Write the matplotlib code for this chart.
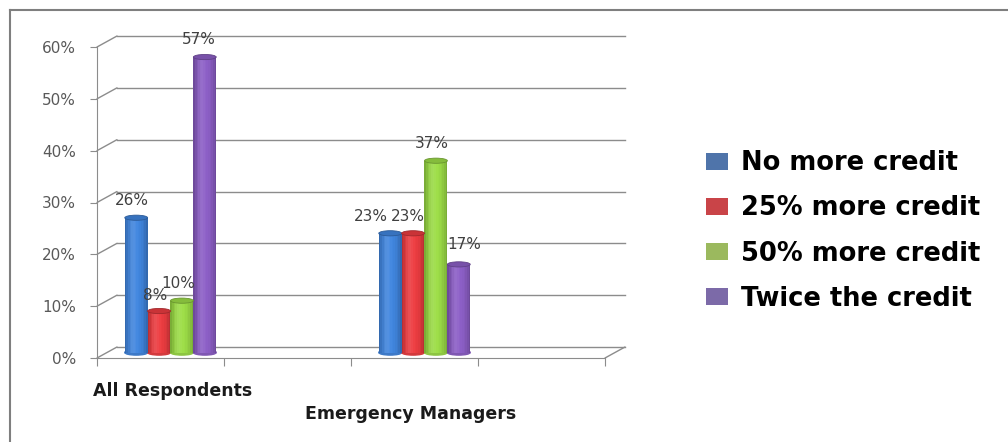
import numpy as np
import matplotlib.pyplot as plt
from matplotlib.transforms import ScaledTranslation
from matplotlib.patches import Ellipse, Patch, ConnectionPatch
from matplotlib.lines import Line2D
from matplotlib.colors import to_rgb

# Datos de la encuesta
categories = ['All Respondents', 'Emergency Managers']
cat_slots = [0.5, 2.5]          # posición de cada grupo en el eje x (4 huecos)
series = ['No more credit', '25% more credit', '50% more credit', 'Twice the credit']
values = {
    'No more credit':   [26, 23],
    '25% more credit':  [8, 23],
    '50% more credit':  [10, 37],
    'Twice the credit': [57, 17],
}
bar_colors = ['#3a78c8', '#d4363a', '#8cc63f', '#7e55b2']
legend_colors = ['#4f74aa', '#c94448', '#9bb95e', '#7c6aa8']
yticks = [0, 10, 20, 30, 40, 50, 60]

# desplazamiento de etiquetas (puntos) para que no se solapen
label_nudge = {
    ('No more credit', 0): (-3, 7), ('25% more credit', 0): (-3, 6),
    ('50% more credit', 0): (-3, 7), ('Twice the credit', 0): (-4, 7),
    ('No more credit', 1): (-14, 7), ('25% more credit', 1): (-4, 7),
    ('50% more credit', 1): (-3, 7), ('Twice the credit', 1): (4, 9),
}

plt.rcParams['font.family'] = ['DejaVu Sans']

fig = plt.figure(figsize=(10.08, 4.42), dpi=100)
ax = fig.add_axes([97/1008, 84/442, 508/1008, 311/442])
ax.set_xlim(0, 4)
ax.set_ylim(0, 60)
ax.patch.set_visible(False)

# profundidad falsa: plano medio (barras) y pared del fondo
tr_mid = ax.transData + ScaledTranslation(0.10, 0.055, fig.dpi_scale_trans)
tr_back = ax.transData + ScaledTranslation(0.20, 0.11, fig.dpi_scale_trans)

grid_c = '#8c8c8c'
for v in yticks:
    ax.plot([0, 4], [v, v], color=grid_c, lw=1.0, transform=tr_back, clip_on=False, zorder=1)
    ax.add_artist(ConnectionPatch((0, v), (0, v), ax.transData, tr_back,
                                  color=grid_c, lw=1.0, zorder=1))
ax.add_artist(ConnectionPatch((4, 0), (4, 0), ax.transData, tr_back,
                              color=grid_c, lw=1.0, zorder=1))

# ejes frontales
for s in ['top', 'right']:
    ax.spines[s].set_visible(False)
ax.spines['left'].set_color(grid_c)
ax.spines['bottom'].set_color(grid_c)
ax.set_yticks(yticks)
ax.set_yticklabels([f'{v}%' for v in yticks])
ax.set_xticks([0, 1, 2, 3, 4])
ax.set_xticklabels([])
ax.tick_params(axis='y', length=5, color=grid_c, labelcolor='#595959', labelsize=11, pad=10)
ax.tick_params(axis='x', length=6, color=grid_c, direction='out')


def shade(color, t):
    # t en [0, 1] a lo ancho del cilindro
    base = np.array(to_rgb(color))
    light = 0.62 + 0.50 * np.sin(np.pi * (t * 0.9 + 0.05)) ** 0.5
    c = base * light
    hl = np.exp(-((t - 0.35) / 0.15) ** 2) * 0.10
    c = c + (1 - c) * hl
    return np.clip(c, 0, 1)


bar_w = 0.18
n_strips = 14
ell_h = 1.0
for i, name in enumerate(series):
    for j, slot in enumerate(cat_slots):
        v = values[name][j]
        xc = slot + (i - 1.5) * bar_w
        ts = (np.arange(n_strips) + 0.5) / n_strips
        xs = xc - bar_w / 2 + ts * bar_w
        cols = [shade(bar_colors[i], t) for t in ts]
        ax.add_patch(Ellipse((xc, 0), bar_w, ell_h, transform=tr_mid,
                             color=shade(bar_colors[i], 0.15), clip_on=False, zorder=3))
        ax.bar(xs, v, width=bar_w / n_strips * 1.05, color=cols, linewidth=0,
               transform=tr_mid, clip_on=False, zorder=4)
        top = np.array(to_rgb(bar_colors[i])) * 0.95
        ax.add_patch(Ellipse((xc, v), bar_w, ell_h, transform=tr_mid,
                             facecolor=top, edgecolor=top * 0.8, lw=0.6,
                             clip_on=False, zorder=5))
        dx, dy = label_nudge[(name, j)]
        ax.annotate(f'{v}%', (xc, v), xycoords=tr_mid, xytext=(dx, dy),
                    textcoords='offset points', ha='center', va='bottom',
                    fontsize=11, color='#404040', zorder=6, annotation_clip=False)

# etiquetas de categoría escalonadas
ax.annotate(categories[0], (cat_slots[0], 0), xycoords='data', xytext=(9, -24),
            textcoords='offset points', ha='center', va='center',
            fontsize=12.5, fontweight='bold', color='#1a1a1a', annotation_clip=False)
ax.annotate(categories[1], (cat_slots[1], 0), xycoords='data', xytext=(-3, -40),
            textcoords='offset points', ha='center', va='center',
            fontsize=12.5, fontweight='bold', color='#1a1a1a', annotation_clip=False)

# leyenda
handles = [Patch(facecolor=c, edgecolor='none') for c in legend_colors]
fig.legend(handles, series, loc='upper left', bbox_to_anchor=(683/1008, 1 - 127/442),
           frameon=False, prop={'weight': 'bold', 'size': 18.5},
           handlelength=0.85, handleheight=0.65, handletextpad=0.5, labelspacing=0.75)

# marco del gráfico
fig.add_artist(Line2D([10/1008, 1], [1 - 10/442, 1 - 10/442], color='#7f7f7f', lw=1.5))
fig.add_artist(Line2D([10/1008, 10/1008], [0, 1 - 10/442], color='#7f7f7f', lw=1.5))

fig.savefig('out.png', dpi=100)
